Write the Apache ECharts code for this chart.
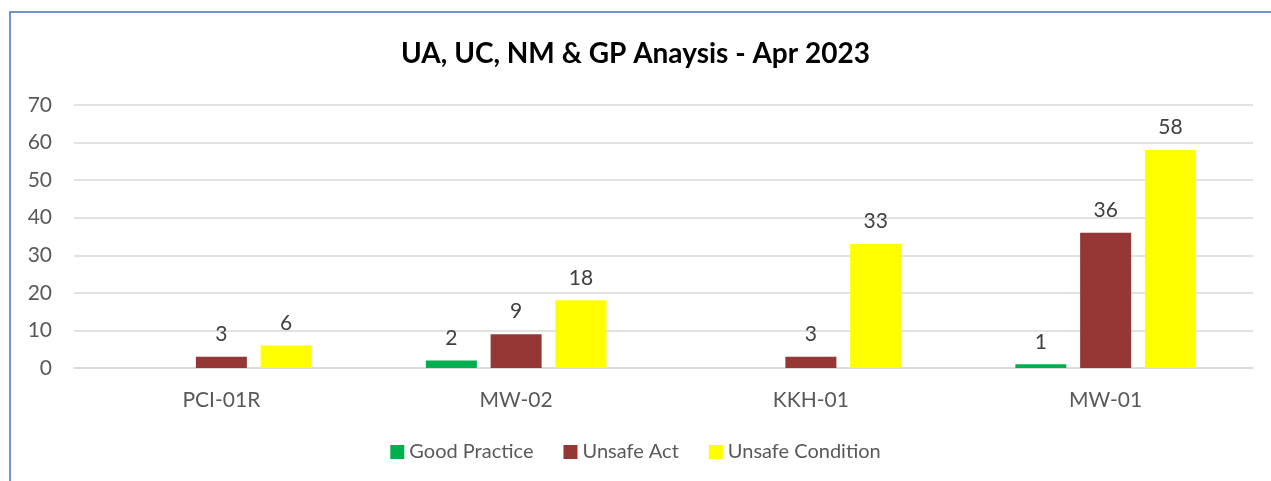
<!DOCTYPE html>
<html>
<head>
<meta charset="utf-8">
<script src="https://cdn.jsdelivr.net/npm/echarts@6/dist/echarts.min.js"></script>
<style>
  html, body { margin: 0; padding: 0; background: #fff; }
  #chart { width: 1271px; height: 481px; }
</style>
</head>
<body>
<div id="chart"></div>
<script>
// data
const categories = ['PCI-01R', 'MW-02', 'KKH-01', 'MW-01']
const goodPractice = [null, 2, null, 1]
const unsafeAct = [3, 9, 3, 36]
const unsafeCondition = [6, 18, 33, 58]

const font = 'Lato, "Open Sans", sans-serif'

// same style for every series, only colour and data change
function barSeries(name, color, data) {
    return {
        name: name,
        type: 'bar',
        data: data,
        barWidth: 51,
        barGap: '27%',
        itemStyle: { color: color },
        label: {
            show: true,
            position: 'top',
            distance: 12,
            fontFamily: font,
            fontSize: 21,
            color: '#404040'
        }
    }
}

const chart = echarts.init(document.getElementById('chart'))
chart.setOption({
    animation: false,
    title: {
        text: 'UA, UC, NM & GP Anaysis - Apr 2023',
        left: 'center',
        top: 35,
        textStyle: { fontFamily: font, fontSize: 28, fontWeight: 'bold', color: '#000' }
    },
    legend: {
        bottom: 14,
        left: 'center',
        itemWidth: 14,
        itemHeight: 14,
        itemGap: 30,
        icon: 'rect',
        textStyle: { fontFamily: font, fontSize: 20, color: '#595959' },
        data: ['Good Practice', 'Unsafe Act', 'Unsafe Condition']
    },
    // chart frame, only left and top edges are visible in the shot
    graphic: [{
        type: 'rect',
        shape: { x: 10, y: 12, width: 1400, height: 600 },
        style: { fill: 'none', stroke: '#4472C4', lineWidth: 1.5 }
    }],
    grid: { left: 74, right: 18, top: 105, bottom: 113 },
    xAxis: {
        type: 'category',
        data: categories,
        axisTick: { show: false },
        axisLine: { lineStyle: { color: '#d9d9d9', width: 1.5 } },
        axisLabel: { fontFamily: font, fontSize: 21, color: '#595959', margin: 22 }
    },
    yAxis: {
        type: 'value',
        min: 0,
        max: 70,
        interval: 10,
        axisLine: { show: false },
        axisTick: { show: false },
        splitLine: { lineStyle: { color: '#d9d9d9', width: 1.5 } },
        axisLabel: { fontFamily: font, fontSize: 21, color: '#595959', margin: 22 }
    },
    series: [
        barSeries('Good Practice', '#00B050', goodPractice),
        barSeries('Unsafe Act', '#953735', unsafeAct),
        barSeries('Unsafe Condition', '#FFFF00', unsafeCondition)
    ]
})
</script>
</body>
</html>
